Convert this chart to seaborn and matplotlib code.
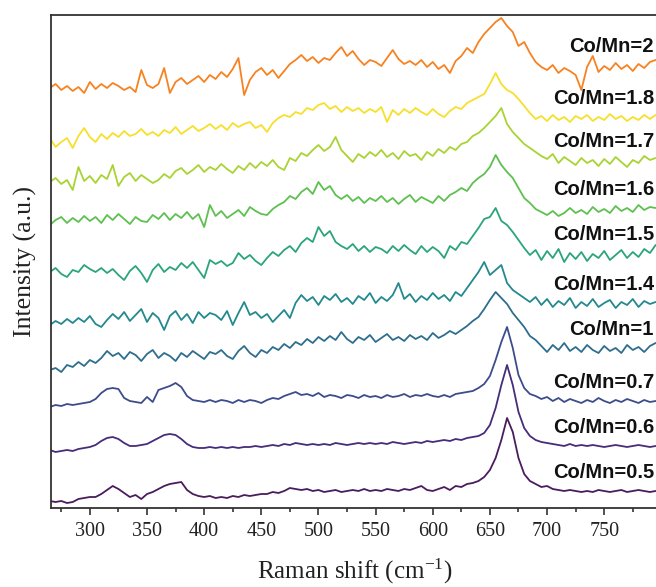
import numpy as np
import pandas as pd
import matplotlib
matplotlib.use("Agg")
import matplotlib.pyplot as plt
import seaborn as sns
from matplotlib.ticker import MultipleLocator

# Raman shift grid (cm-1)
raman_shift = np.arange(265, 796, 5)

sample_labels = ["Co/Mn=0.5", "Co/Mn=0.6", "Co/Mn=0.7", "Co/Mn=1", "Co/Mn=1.4",
                 "Co/Mn=1.5", "Co/Mn=1.6", "Co/Mn=1.7", "Co/Mn=1.8", "Co/Mn=2"]
sample_colors = ["#4a1c5c", "#472c7a", "#3d4c8a", "#2d6e8e", "#23898e",
                 "#2aa57a", "#5dc04f", "#a9d333", "#f7df2b", "#f68220"]

# stacked intensities (a.u.)
co_mn_0_5 = [7, 6, 7, 5, 6, 9, 10, 11, 11, 14,
             18, 22, 19, 15, 11, 13, 9, 14, 16, 19,
             22, 24, 25, 26, 18, 14, 12, 11, 12, 10,
             11, 10, 12, 11, 13, 12, 13, 14, 14, 16,
             15, 17, 20, 19, 18, 19, 17, 18, 16, 17,
             18, 16, 17, 18, 17, 19, 17, 18, 17, 19,
             18, 17, 19, 18, 20, 22, 18, 17, 19, 21,
             18, 22, 21, 24, 25, 27, 31, 38, 50, 68,
             90, 76, 50, 34, 27, 24, 21, 22, 19, 18,
             17, 18, 17, 16, 17, 16, 18, 17, 16, 17,
             18, 16, 17, 18, 17, 16, 17]
co_mn_0_6 = [58, 56, 57, 58, 57, 59, 60, 61, 63, 67,
             70, 71, 69, 65, 62, 62, 63, 64, 67, 70,
             73, 74, 73, 69, 64, 61, 60, 60, 61, 60,
             61, 60, 61, 60, 61, 61, 62, 61, 62, 63,
             62, 64, 63, 65, 64, 63, 64, 63, 64, 63,
             65, 64, 63, 64, 65, 64, 65, 64, 65, 64,
             66, 65, 64, 65, 66, 65, 67, 66, 67, 68,
             67, 69, 68, 70, 71, 72, 75, 83, 100, 123,
             143, 123, 96, 80, 72, 68, 66, 65, 64, 63,
             62, 64, 62, 63, 62, 63, 62, 61, 62, 63,
             62, 61, 62, 63, 62, 61, 62]
co_mn_0_7 = [101, 103, 102, 104, 103, 104, 105, 106, 109, 115,
             119, 120, 119, 110, 107, 106, 105, 111, 106, 118,
             120, 122, 125, 121, 112, 108, 107, 106, 108, 106,
             108, 107, 105, 108, 106, 108, 107, 105, 108, 110,
             109, 112, 114, 116, 113, 114, 112, 115, 111, 113,
             112, 110, 113, 112, 110, 113, 111, 112, 110, 113,
             111, 112, 114, 111, 113, 112, 114, 112, 111, 113,
             111, 114, 115, 116, 117, 120, 124, 132, 148, 166,
             181, 160, 133, 120, 114, 112, 109, 111, 107, 110,
             106, 109, 107, 105, 108, 106, 110, 107, 105, 108,
             106, 109, 107, 105, 108, 106, 107]
co_mn_1 = [138, 140, 136, 143, 141, 146, 142, 148, 145, 150,
           157, 152, 155, 149, 156, 153, 147, 154, 158, 150,
           155, 152, 147, 155, 151, 157, 153, 149, 156, 154,
           158, 152, 149, 157, 162, 155, 151, 158, 155, 161,
           158, 164, 160, 166, 163, 169, 165, 171, 167, 172,
           168, 176, 169, 165, 171, 168, 173, 166, 170, 174,
           168, 171, 167, 173, 169, 172, 168, 175, 170, 173,
           177, 174, 178, 182, 187, 191, 199, 208, 216, 210,
           204, 195, 188, 181, 172, 168, 162, 156, 163, 158,
           165, 157, 161, 156, 163, 158, 155, 162, 157, 160,
           155, 163, 158, 161, 156, 162, 165]
co_mn_1_4 = [183, 187, 184, 189, 185, 190, 186, 192, 184, 181,
             188, 194, 189, 196, 187, 193, 199, 186, 195, 190,
             178, 192, 197, 188, 194, 185, 196, 190, 195, 193,
             188, 197, 183, 195, 206, 193, 196, 190, 194, 186,
             192, 198, 190, 205, 213, 207, 211, 203, 212, 208,
             214, 206, 210, 204, 212, 208, 215, 205, 211, 207,
             213, 225, 209, 214, 206, 212, 208, 215, 209, 213,
             207, 216, 212, 220, 228, 236, 246, 233, 238, 243,
             225, 218, 214, 210, 206, 211, 203, 209, 201, 207,
             203, 210, 200, 206, 202, 209, 201, 205, 208, 200,
             206, 203, 209, 201, 207, 204, 206]
co_mn_1_5 = [236, 240, 234, 231, 238, 236, 243, 239, 236, 240,
             235, 239, 233, 228, 237, 242, 235, 226, 238, 244,
             236, 241, 238, 245, 240, 246, 238, 230, 248, 244,
             247, 242, 245, 255, 249, 253, 247, 243, 250, 256,
             252, 258, 262, 256, 265, 270, 266, 281, 272, 277,
             266, 262, 259, 264, 257, 262, 256, 261, 259, 255,
             262, 257, 263, 258, 254, 262, 256, 261, 257, 250,
             262, 258, 266, 264, 272, 280, 289, 291, 300, 287,
             283, 276, 268, 260, 253, 258, 248, 257, 250, 259,
             246, 255, 249, 256, 247, 254, 250, 257, 248, 253,
             258, 250, 256, 251, 259, 255, 263]
co_mn_1_6 = [283, 288, 291, 285, 290, 286, 292, 287, 291, 285,
             293, 288, 294, 289, 284, 291, 287, 286, 293, 289,
             295, 288, 294, 290, 296, 289, 294, 281, 303, 292,
             297, 290, 294, 298, 292, 301, 297, 294, 293, 299,
             303, 306, 312, 309, 316, 320, 314, 326, 318, 322,
             313, 309, 313, 307, 311, 305, 310, 307, 312, 306,
             310, 304, 309, 313, 306, 311, 308, 305, 312, 307,
             313, 316, 320, 317, 325, 330, 334, 341, 353, 343,
             336, 330, 320, 310, 305, 299, 296, 293, 297, 292,
             295, 300, 295, 298, 294, 301, 296, 299, 295, 302,
             297, 300, 296, 303, 298, 301, 300]
co_mn_1_7 = [326, 330, 324, 328, 318, 341, 327, 332, 325, 333,
             329, 343, 322, 331, 335, 327, 333, 329, 325, 328,
             334, 330, 337, 340, 334, 338, 343, 336, 341, 338,
             344, 339, 335, 342, 338, 345, 340, 346, 342, 348,
             341, 338, 350, 347, 355, 352, 358, 363, 357, 361,
             371, 358, 352, 346, 354, 350, 356, 352, 358, 351,
             355, 349, 357, 352, 354, 348, 356, 352, 359, 355,
             361, 358, 364, 366, 372, 375, 380, 386, 392, 400,
             384, 376, 370, 364, 360, 356, 352, 349, 354, 345,
             351, 347, 343, 350, 345, 348, 342, 349, 344, 351,
             346, 341, 348, 345, 352, 348, 350]
co_mn_1_8 = [370, 361, 366, 370, 360, 372, 380, 371, 366, 374,
             369, 375, 371, 377, 372, 374, 379, 373, 376, 372,
             378, 375, 381, 374, 378, 382, 377, 380, 384, 379,
             383, 378, 385, 381, 384, 386, 380, 383, 376, 385,
             390, 393, 391, 396, 394, 400, 398, 403, 405, 399,
             402, 396, 401, 397, 400, 395, 399, 396, 401, 386,
             398, 393, 399, 395, 400, 396, 393, 399, 394, 391,
             397, 401, 399, 405, 408, 411, 414, 424, 435, 424,
             418, 415, 409, 402, 395, 389, 392, 387, 393, 388,
             391, 386, 392, 389, 393, 387, 391, 388, 394, 389,
             392, 387, 391, 388, 393, 389, 393]
co_mn_2 = [420, 424, 418, 422, 417, 421, 415, 426, 419, 424,
           420, 425, 422, 418, 421, 416, 438, 423, 420, 424,
           440, 415, 426, 430, 424, 428, 432, 426, 433, 429,
           436, 431, 439, 450, 413, 428, 436, 440, 433, 438,
           430, 437, 444, 448, 453, 447, 451, 445, 450, 448,
           455, 461, 452, 457, 449, 443, 448, 446, 442, 450,
           458, 449, 444, 447, 443, 448, 441, 446, 439, 443,
           435, 447, 452, 460, 455, 466, 474, 480, 486, 490,
           482, 476, 462, 466, 455, 446, 441, 438, 443, 435,
           440, 437, 433, 418, 441, 452, 436, 442, 438, 445,
           439, 443, 437, 444, 440, 446, 448]

series = [co_mn_0_5, co_mn_0_6, co_mn_0_7, co_mn_1, co_mn_1_4,
          co_mn_1_5, co_mn_1_6, co_mn_1_7, co_mn_1_8, co_mn_2]

frames = []
for lab, vals in zip(sample_labels, series):
    frames.append(pd.DataFrame({"shift": raman_shift, "intensity": vals, "sample": lab}))
df = pd.concat(frames, ignore_index=True)

sns.set_theme(style="white")
plt.rcParams["font.family"] = ["Liberation Serif", "DejaVu Serif"]
plt.rcParams["mathtext.fontset"] = "stix"

W, H = 656, 587
fig = plt.figure(figsize=(W / 100, H / 100), dpi=100)
x_lo, x_hi = 266, 798
px_per_unit = 1.143
ax = fig.add_axes([51 / W, 79 / H, (x_hi - x_lo) * px_per_unit / W, 493 / H])

sns.lineplot(data=df, x="shift", y="intensity", hue="sample",
             palette=dict(zip(sample_labels, sample_colors)),
             hue_order=sample_labels, legend=False, estimator=None,
             sort=False, linewidth=1.3, ax=ax)

ax.set_xlim(x_lo, x_hi)
ax.set_ylim(0, 493)
ax.set_yticks([])
ax.xaxis.set_major_locator(MultipleLocator(50))
ax.xaxis.set_minor_locator(MultipleLocator(25))
ax.tick_params(axis="x", which="major", direction="out", length=5, width=1.1,
               bottom=True, labelsize=14.5, pad=5, colors="#222222")
ax.tick_params(axis="x", which="minor", direction="out", length=3, width=1.1,
               bottom=True, colors="#222222")
for side in ["left", "bottom", "top"]:
    ax.spines[side].set_color("#333333")
    ax.spines[side].set_linewidth(1.3)
ax.spines["right"].set_visible(False)

ax.set_xlabel("Raman shift (cm$^{\\mathregular{-1}}$)", fontsize=18, color="#222222")
ax.xaxis.set_label_coords((355 - 51) / ((x_hi - x_lo) * px_per_unit), -0.098)
ax.set_ylabel("Intensity (a.u.)", fontsize=18.5, labelpad=10, color="#222222")

for lab, vals in zip(sample_labels, series):
    ax.text(793.5, np.mean(vals[-10:]) + 19, lab, ha="right", va="center",
            fontsize=14.5, fontweight="bold", family=["Liberation Sans", "DejaVu Sans"],
            color="#111111")

fig.savefig("out.png", dpi=100)
